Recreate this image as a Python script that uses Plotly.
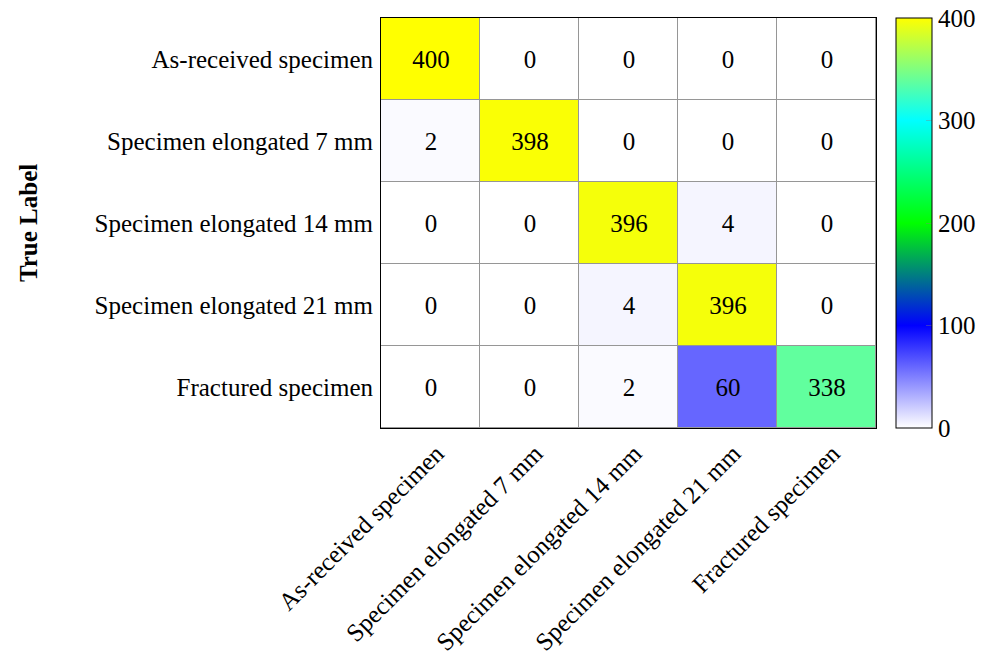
import plotly.graph_objects as go

# Class names (rows = true label, columns = predicted label)
classes = [
    "As-received specimen",
    "Specimen elongated 7 mm",
    "Specimen elongated 14 mm",
    "Specimen elongated 21 mm",
    "Fractured specimen",
]

# Confusion matrix counts, one list per true class
row_as_received = [400, 0, 0, 0, 0]
row_elong_7 = [2, 398, 0, 0, 0]
row_elong_14 = [0, 0, 396, 4, 0]
row_elong_21 = [0, 0, 4, 396, 0]
row_fractured = [0, 0, 2, 60, 338]

z = [row_as_received, row_elong_7, row_elong_14, row_elong_21, row_fractured]

colorbar_ticks = [0, 100, 200, 300, 400]

FONT = "Liberation Serif"

# white -> blue -> green -> cyan -> yellow
cmap = [
    [0.0, "rgb(255,255,255)"],
    [0.25, "rgb(0,0,255)"],
    [0.5, "rgb(0,255,0)"],
    [0.75, "rgb(0,255,255)"],
    [1.0, "rgb(255,255,0)"],
]

fig = go.Figure(
    go.Heatmap(
        z=z,
        x=classes,
        y=classes,
        zmin=0,
        zmax=400,
        colorscale=cmap,
        xgap=1,
        ygap=1,
        texttemplate="%{z}",
        textfont=dict(family=FONT, size=25, color="black"),
        hoverinfo="skip",
        colorbar=dict(
            x=1.04,
            xanchor="left",
            xpad=0,
            y=0.5,
            yanchor="middle",
            ypad=0,
            len=1,
            lenmode="fraction",
            thickness=36,
            outlinecolor="black",
            outlinewidth=1,
            tickvals=colorbar_ticks,
            ticks="inside",
            ticklen=6,
            tickcolor="rgba(128,128,128,0.4)",
            tickfont=dict(family=FONT, size=25, color="black"),
        ),
    )
)

fig.update_xaxes(
    tickangle=-45,
    tickfont=dict(family=FONT, size=25, color="black"),
    showline=True,
    linecolor="black",
    linewidth=1,
    mirror=True,
    showgrid=False,
    ticks="",
    ticklabelstandoff=0,
    ticklabelshift=6,
)
fig.update_yaxes(
    autorange="reversed",
    tickfont=dict(family=FONT, size=25, color="black"),
    showline=True,
    linecolor="black",
    linewidth=1,
    mirror=True,
    showgrid=False,
    ticks="",
    ticklabelstandoff=2,
)

# y-axis title placed to the far left of the tick labels
fig.add_annotation(
    text="<b>True Label</b>",
    xref="paper",
    yref="paper",
    x=-0.713,
    y=0.5,
    xanchor="center",
    yanchor="middle",
    textangle=-90,
    showarrow=False,
    font=dict(family=FONT, size=25, color="black"),
)

fig.update_layout(
    width=992,
    height=670,
    margin=dict(l=381, r=116, t=18, b=242, autoexpand=False),
    plot_bgcolor="rgb(150,150,150)",
    paper_bgcolor="white",
)

fig.write_html("out.html")
